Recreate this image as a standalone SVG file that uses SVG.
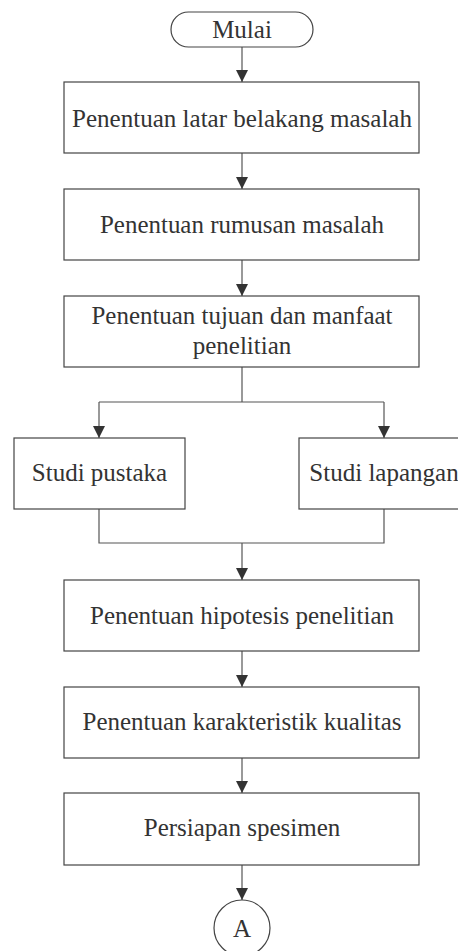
<svg xmlns="http://www.w3.org/2000/svg" width="458" height="951" viewBox="0 0 458 951">
<style>
.box{fill:#fff;stroke:#444;stroke-width:1.2}
.t{font-family:"Liberation Serif","Times New Roman",serif;font-size:25px;fill:#333;text-anchor:middle}
.c{fill:none;stroke:#555;stroke-width:1.2}
</style>
<defs>
<marker id="ah" markerUnits="userSpaceOnUse" markerWidth="12" markerHeight="12" viewBox="0 0 12 12" refX="12" refY="6" orient="auto">
<path d="M0,0 L12,6 L0,12 z" fill="#333"/>
</marker>
</defs>
<rect width="458" height="951" fill="#fff"/>
<g id="connectors">
<path class="c" d="M242,47 V82" marker-end="url(#ah)"/>
<path class="c" d="M242,153 V189" marker-end="url(#ah)"/>
<path class="c" d="M242,260 V296" marker-end="url(#ah)"/>
<path class="c" d="M242,367 V402"/>
<path class="c" d="M99,402 H384"/>
<path class="c" d="M99,402 V438" marker-end="url(#ah)"/>
<path class="c" d="M384,402 V438" marker-end="url(#ah)"/>
<path class="c" d="M99,509 V543 H384 V509"/>
<path class="c" d="M242,543 V580" marker-end="url(#ah)"/>
<path class="c" d="M242,651 V687" marker-end="url(#ah)"/>
<path class="c" d="M242,758 V793" marker-end="url(#ah)"/>
<path class="c" d="M242,865 V900" marker-end="url(#ah)"/>
</g>
<g id="mulai">
<rect class="box" x="171" y="12" width="142" height="35" rx="17.5"/>
<text class="t" x="242" y="38">Mulai</text>
</g>
<g id="latar">
<rect class="box" x="64" y="82" width="355" height="71"/>
<text class="t" x="242" y="127" textLength="340" lengthAdjust="spacingAndGlyphs">Penentuan latar belakang masalah</text>
</g>
<g id="rumusan">
<rect class="box" x="64" y="189" width="355" height="71"/>
<text class="t" x="242" y="233" textLength="284" lengthAdjust="spacingAndGlyphs">Penentuan rumusan masalah</text>
</g>
<g id="tujuan">
<rect class="box" x="64" y="296" width="355" height="71"/>
<text class="t" x="242" y="324" textLength="301" lengthAdjust="spacingAndGlyphs">Penentuan tujuan dan manfaat</text>
<text class="t" x="242" y="354">penelitian</text>
</g>
<g id="pustaka">
<rect class="box" x="14" y="438" width="171" height="71"/>
<text class="t" x="99.5" y="481">Studi pustaka</text>
</g>
<g id="lapangan">
<rect class="box" x="299" y="438" width="171" height="71"/>
<text class="t" x="384" y="481">Studi lapangan</text>
</g>
<g id="hipotesis">
<rect class="box" x="64" y="580" width="355" height="71"/>
<text class="t" x="242" y="624" textLength="304" lengthAdjust="spacingAndGlyphs">Penentuan hipotesis penelitian</text>
</g>
<g id="karakteristik">
<rect class="box" x="64" y="687" width="355" height="71"/>
<text class="t" x="242" y="730" textLength="319" lengthAdjust="spacingAndGlyphs">Penentuan karakteristik kualitas</text>
</g>
<g id="persiapan">
<rect class="box" x="64" y="793" width="355" height="72"/>
<text class="t" x="242" y="836">Persiapan spesimen</text>
</g>
<g id="konektorA">
<circle class="box" cx="242" cy="928" r="28"/>
<text class="t" x="242" y="937">A</text>
</g>
</svg>
